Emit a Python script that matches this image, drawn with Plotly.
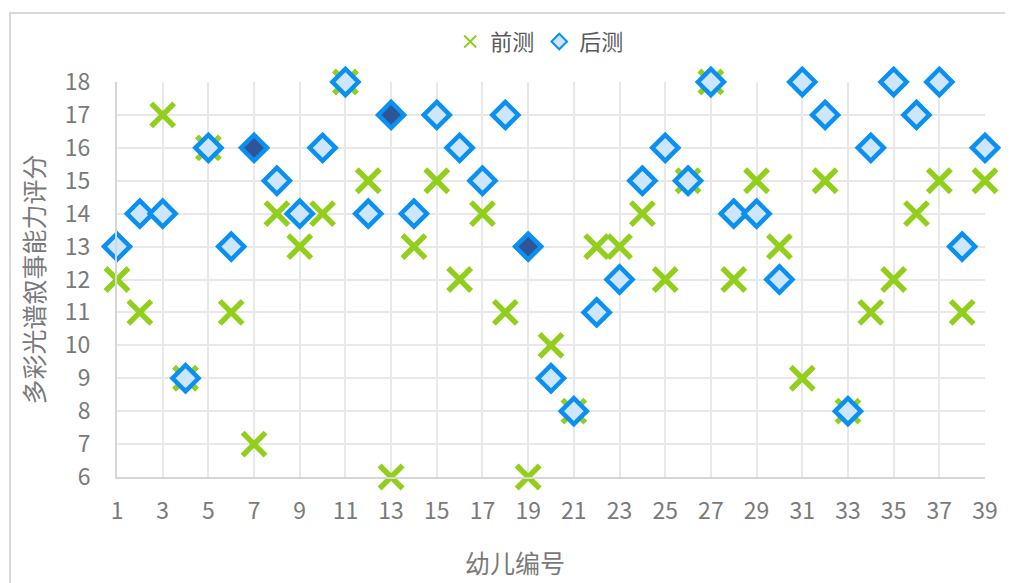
import plotly.graph_objects as go

child_ids = list(range(1, 40))
pre_scores = [12, 11, 17, 9, 16, 11, 7, 14, 13, 14, 18, 15, 6, 13, 15, 12, 14, 11, 6, 10,
              8, 13, 13, 14, 12, 15, 18, 12, 15, 13, 9, 15, 8, 11, 12, 14, 15, 11, 15]
post_scores = [13, 14, 14, 9, 16, 13, 16, 15, 14, 16, 18, 14, 17, 14, 17, 16, 15, 17, 13, 9,
               8, 11, 12, 15, 16, 15, 18, 14, 14, 12, 18, 17, 8, 16, 18, 17, 18, 13, 16]
highlighted_ids = [7, 13, 19]
x_ticks = list(range(1, 40, 2))
y_ticks = list(range(6, 19))

GREEN = "#92CF1C"
BLUE = "#0A8FF2"
LIGHT = "#CDE6FD"
DARK = "#2F5597"
TEXT = "#7a7a7a"
FONT = "Noto Sans CJK SC, Open Sans, sans-serif"

post_fill = [DARK if i in highlighted_ids else LIGHT for i in child_ids]

fig = go.Figure()
fig.add_trace(go.Scatter(
    x=child_ids, y=pre_scores, mode="markers", name="前测",
    marker=dict(symbol="x-thin", size=23, color=GREEN,
                line=dict(color=GREEN, width=5.5)),
    cliponaxis=False,
))
fig.add_trace(go.Scatter(
    x=child_ids, y=post_scores, mode="markers", name="后测",
    marker=dict(symbol="diamond", size=20, color=post_fill,
                line=dict(color=BLUE, width=4.5)),
    cliponaxis=False,
))

fig.update_layout(
    width=1013, height=583,
    margin=dict(l=109, r=36, t=74, b=114, autoexpand=False),
    paper_bgcolor="white", plot_bgcolor="white",
    font=dict(family=FONT, color=TEXT, size=23),
    showlegend=True,
    legend=dict(orientation="h", x=0.487, xanchor="center", y=1.102, yanchor="middle",
                font=dict(size=22, color="#595959"), itemsizing="constant",
                itemwidth=30, bgcolor="rgba(0,0,0,0)"),
    xaxis=dict(range=[1, 39], tickvals=x_ticks, showgrid=True, gridcolor="#E8E8E8",
               gridwidth=1.5, showline=True, linecolor="#D6D6D6", linewidth=2,
               zeroline=False, ticks="", ticklabelstandoff=12, automargin=False,
               tickfont=dict(size=23, color=TEXT)),
    yaxis=dict(range=[6, 18], tickvals=y_ticks, showgrid=True, gridcolor="#E8E8E8",
               gridwidth=1.5, showline=True, linecolor="#D6D6D6", linewidth=2,
               zeroline=False, ticks="", ticklabelstandoff=20, automargin=False,
               tickfont=dict(size=23, color=TEXT),
               title=dict(text="多彩光谱叙事能力评分", font=dict(size=25, color=TEXT), standoff=13)),
)
fig.add_annotation(text="幼儿编号", xref="paper", yref="paper",
                   x=(515 - 117) / 868, y=(477 - 562) / 395,
                   xanchor="center", yanchor="middle", showarrow=False,
                   font=dict(size=25, color=TEXT, family=FONT))
fig.add_shape(type="rect", xref="paper", yref="paper",
              x0=-107/868, y0=-120/395, x1=1 + 40/868, y1=1 + 69/395,
              line=dict(color="#D9D9D9", width=2), fillcolor="rgba(0,0,0,0)", layer="below")
fig.write_html("out.html")
